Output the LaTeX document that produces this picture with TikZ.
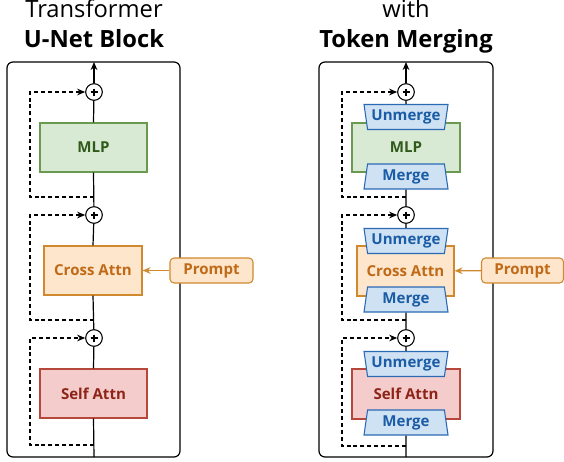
\documentclass[tikz,border=0pt]{standalone}
\usepackage{fontspec}
\setmainfont{Open Sans}
\usetikzlibrary{arrows.meta,shapes.geometric,calc}
\definecolor{mlpfill}{HTML}{D8EAD3}
\definecolor{mlpdraw}{HTML}{6A9A50}
\definecolor{mlptext}{HTML}{2F5A1A}
\definecolor{cafill}{HTML}{FDE6CB}
\definecolor{cadraw}{HTML}{D0892F}
\definecolor{catext}{HTML}{C06A18}
\definecolor{safill}{HTML}{F5CCCC}
\definecolor{sadraw}{HTML}{B5483A}
\definecolor{satext}{HTML}{8E2418}
\definecolor{mgfill}{HTML}{CFE2F3}
\definecolor{mgdraw}{HTML}{2A6AB5}
\definecolor{mgtext}{HTML}{1A5CA6}
\begin{document}
\begin{tikzpicture}[x=0.75pt,y=-0.75pt,
  lbl/.style={font=\bfseries\fontsize{11.3}{13}\selectfont, inner sep=0pt},
  frame/.style={draw, line width=0.9pt, rounded corners=4.5pt},
  blk/.style={lbl, draw, line width=0.8pt, minimum height=36.75pt},
  mlpbox/.style={blk, fill=mlpfill, draw=mlpdraw, text=mlptext},
  cabox/.style={blk, fill=cafill, draw=cadraw, text=catext},
  sabox/.style={blk, fill=safill, draw=sadraw, text=satext},
  promptbox/.style={lbl, draw=cadraw, fill=cafill, text=catext, line width=0.8pt,
     rounded corners=3pt, minimum height=18.75pt},
  mergebox/.style={lbl, trapezium, trapezium left angle=76, trapezium right angle=76,
     trapezium stretches body, draw=mgdraw, fill=mgfill, text=mgtext, line width=0.8pt,
     minimum width=63pt, minimum height=18.75pt},
  unmergebox/.style={mergebox, shape border rotate=180},
  plusnode/.style={circle, draw, fill=white, line width=0.8pt, minimum size=12.5pt, inner sep=0pt},
  mainline/.style={line width=0.9pt},
  skip/.style={dashed, dash pattern=on 3pt off 2.2pt, line width=0.8pt, -{Stealth[length=6pt,width=5pt]}},
  titlereg/.style={font=\fontsize{17.8}{20}\selectfont, anchor=base, inner sep=0pt},
  titlebold/.style={font=\bfseries\fontsize{17.8}{20}\selectfont, anchor=base, inner sep=0pt},
]
\useasboundingbox (0,0) rectangle (564,461);

% ---------- Left panel ----------
\node[titlereg] (t1) at (94,17.5) {Transformer};
\node[titlebold] (t2) at (94,47) {U-Net Block};
\draw[frame] (7,62) rectangle (180,457);

\coordinate (Ltop) at (94,62);
\coordinate (Lbot) at (94,457);
\node[plusnode] (Lp1) at (94,92) {};
\node[plusnode] (Lp2) at (94,215) {};
\node[plusnode] (Lp3) at (94,338) {};
\node[mlpbox, minimum width=80.25pt] (Lmlp) at (93.5,147.5) {MLP};
\node[cabox, minimum width=73.5pt] (Lca) at (93,270.5) {Cross Attn};
\node[sabox, minimum width=80.25pt] (Lsa) at (93.5,393.5) {Self Attn};
\node[promptbox, minimum width=62.25pt] (Lpr) at (211.5,270.5) {Prompt};

\draw[mainline] (Lbot) -- (Lsa.south);
\draw[mainline] (Lsa.north) -- (Lp3);
\draw[mainline] (Lp3) -- (Lca.south);
\draw[mainline] (Lca.north) -- (Lp2);
\draw[mainline] (Lp2) -- (Lmlp.south);
\draw[mainline] (Lmlp.north) -- (Lp1);
\draw[mainline, -{Stealth[length=6pt,width=5pt]}] (Lp1) -- (Ltop);
\draw[line width=0.9pt, draw=cadraw, -{Stealth[length=6pt,width=5pt]}] (Lpr) -- (Lca);

\coordinate (Ld1) at (94,197);
\coordinate (Ld2) at (94,320);
\coordinate (Ld3) at (94,445);
\draw[skip] (Ld1) -- ++(-64,0) |- (Lp1.west);
\draw[skip] (Ld2) -- ++(-64,0) |- (Lp2.west);
\draw[skip] (Ld3) -- ++(-64,0) |- (Lp3.west);

% ---------- Right panel ----------
\node[titlereg] (t3) at (406,17.5) {with};
\node[titlebold] (t4) at (406,47) {Token Merging};
\draw[frame] (319,62) rectangle (493,457);

\coordinate (Rtop) at (406,62);
\coordinate (Rbot) at (406,457);
\node[plusnode] (Rp1) at (406,92) {};
\node[plusnode] (Rp2) at (406,215) {};
\node[plusnode] (Rp3) at (406,338) {};
\node[mlpbox, minimum width=81pt] (Rmlp) at (406,147.5) {MLP};
\node[cabox, minimum width=72.75pt, minimum height=37.5pt] (Rca) at (405.5,271) {Cross Attn};
\node[sabox, minimum width=81pt, minimum height=37.5pt] (Rsa) at (406,394) {Self Attn};
\node[promptbox, minimum width=61.5pt] (Rpr) at (522.5,270.5) {Prompt};

\node[unmergebox] (Ru1) at (406,117) {Unmerge};
\node[mergebox] (Rm1) at (406,176.5) {Merge};
\node[unmergebox] (Ru2) at (406,241) {Unmerge};
\node[mergebox] (Rm2) at (406,299.5) {Merge};
\node[unmergebox] (Ru3) at (406,364) {Unmerge};
\node[mergebox] (Rm3) at (406,422.5) {Merge};

\draw[mainline] (Rbot) -- (Rm3.south);
\draw[mainline] (Ru3.north) -- (Rp3);
\draw[mainline] (Rp3) -- (Rm2.south);
\draw[mainline] (Ru2.north) -- (Rp2);
\draw[mainline] (Rp2) -- (Rm1.south);
\draw[mainline] (Ru1.north) -- (Rp1);
\draw[mainline, -{Stealth[length=6pt,width=5pt]}] (Rp1) -- (Rtop);
\draw[line width=0.9pt, draw=cadraw, -{Stealth[length=6pt,width=5pt]}] (Rpr) -- (Rca);

\coordinate (Rd1) at (406,197);
\coordinate (Rd2) at (406,320);
\coordinate (Rd3) at (406,446);
\draw[skip] (Rd1) -- ++(-64,0) |- (Rp1.west);
\draw[skip] (Rd2) -- ++(-64,0) |- (Rp2.west);
\draw[skip] (Rd3) -- ++(-64,0) |- (Rp3.west);

% plus signs inside the sum circles
\foreach \p in {Lp1,Lp2,Lp3,Rp1,Rp2,Rp3}{
  \draw[line width=1.1pt] ($(\p)+(-3.5,0)$) -- ($(\p)+(3.5,0)$);
  \draw[line width=1.1pt] ($(\p)+(0,-3.5)$) -- ($(\p)+(0,3.5)$);
}
\end{tikzpicture}
\end{document}
